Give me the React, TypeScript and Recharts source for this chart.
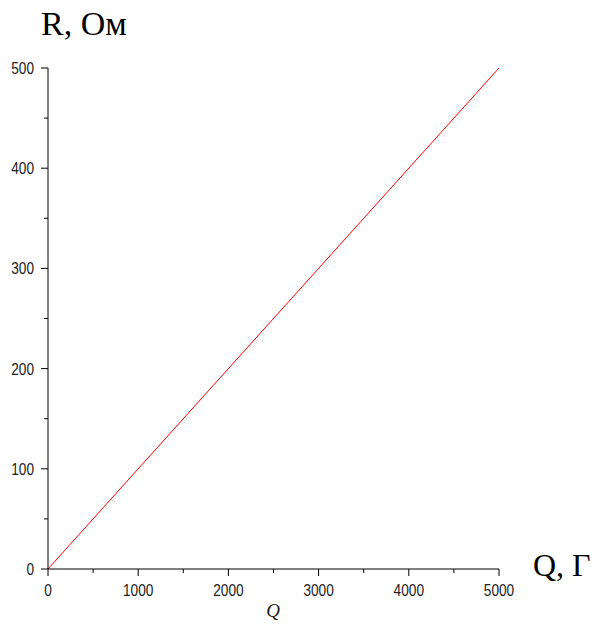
import React from 'react';
import { LineChart, Line, XAxis, YAxis } from 'recharts';

// значения Q (Г) и R (Ом)
const qValues = [0, 5000];
const rValues = [0, 500];
const xTicks = [0, 500, 1000, 1500, 2000, 2500, 3000, 3500, 4000, 4500, 5000];
const yTicks = [0, 50, 100, 150, 200, 250, 300, 350, 400, 450, 500];

const data = qValues.map((q, i) => ({ q, r: rValues[i] }));

const tickFont = '"Liberation Sans", Arial, sans-serif';
// узкие цифры как в оригинале
const narrow = (v: number) => String(v).length * 7.6;

const XTick = (props: any) => {
    const { x, y, payload } = props;
    const major = payload.value % 1000 === 0;
    return (
        <g>
            <line x1={x} y1={y} x2={x} y2={y + (major ? 7 : 4)} stroke="#000" />
            {major && (
                <text x={x - narrow(payload.value) / 2} y={y + 27} textLength={narrow(payload.value)} lengthAdjust="spacingAndGlyphs"
                    fontSize={17} fontFamily={tickFont} fill="#222">
                    {payload.value}
                </text>
            )}
        </g>
    );
};

const YTick = (props: any) => {
    const { x, y, payload } = props;
    const major = payload.value % 100 === 0;
    return (
        <g>
            <line x1={x} y1={y} x2={x - (major ? 7 : 4)} y2={y} stroke="#000" />
            {major && (
                <text x={x - 14 - narrow(payload.value)} y={y} dy="0.35em" textLength={narrow(payload.value)} lengthAdjust="spacingAndGlyphs"
                    fontSize={17} fontFamily={tickFont} fill="#222">
                    {payload.value}
                </text>
            )}
        </g>
    );
};

const App: React.FC = () => {
    return (
        <div style={{ position: 'absolute', left: 0, top: 0, width: 596, height: 625, background: '#fff' }}>
            <LineChart width={596} height={625} data={data} margin={{ top: 68, right: 97, bottom: 0, left: 0 }}>
                <XAxis
                    dataKey="q"
                    type="number"
                    domain={[0, 5000]}
                    ticks={xTicks}
                    interval={0}
                    height={56}
                    tickSize={0}
                    tickMargin={0}
                    tickLine={false}
                    tick={<XTick />}
                    axisLine={{ stroke: '#000' }}
                />
                <YAxis
                    type="number"
                    domain={[0, 500]}
                    ticks={yTicks}
                    interval={0}
                    width={48}
                    tickSize={0}
                    tickMargin={0}
                    tickLine={false}
                    tick={<YTick />}
                    axisLine={{ stroke: '#000' }}
                />
                <Line type="linear" dataKey="r" stroke="#ff0000" strokeWidth={1} dot={false} isAnimationActive={false} />
            </LineChart>
            <svg width={596} height={625} style={{ position: 'absolute', left: 0, top: 0, pointerEvents: 'none' }}>
                <text x={41} y={35} fontSize={34} fontFamily='"Liberation Serif", serif' fill="#000">R, Ом</text>
                <text x={533} y={576} fontSize={32} fontFamily='"Liberation Serif", serif' fill="#000">Q, Г</text>
                <text x={273} y={617} textAnchor="middle" fontSize={19} fontStyle="italic" fontFamily='"Liberation Serif", serif' fill="#222">Q</text>
            </svg>
        </div>
    );
};

export default App;
